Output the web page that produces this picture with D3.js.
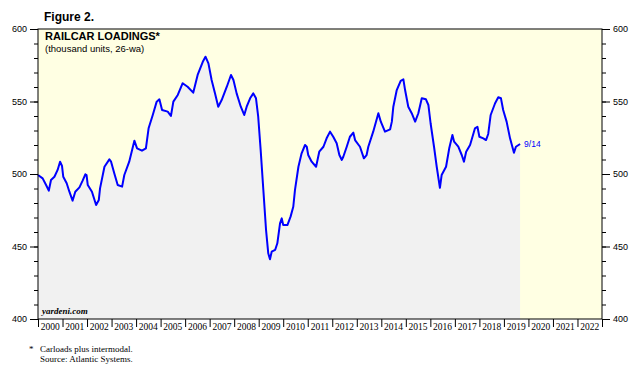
<!DOCTYPE html>
<html>
<head>
<meta charset="utf-8">
<script src="https://cdn.jsdelivr.net/npm/d3@7"></script>
<style>
  body { margin: 0; background: #fff; }
  svg { display: block; }
</style>
</head>
<body>
<svg id="chart" width="637" height="375"></svg>
<script>
// railcar loadings, 26-week average, thousand units
var years = [
  2000.00, 2000.19, 2000.33, 2000.44, 2000.53, 2000.67, 2000.80, 2000.90, 2000.98,
  2001.03, 2001.17, 2001.28, 2001.41, 2001.52, 2001.69, 2001.82, 2001.93, 2001.98,
  2002.03, 2002.20, 2002.37, 2002.48, 2002.53, 2002.71, 2002.91, 2002.98,
  2003.11, 2003.25, 2003.43, 2003.52, 2003.72, 2003.93,
  2004.04, 2004.24, 2004.40, 2004.51, 2004.68, 2004.84, 2004.95,
  2005.06, 2005.29, 2005.42, 2005.52, 2005.70, 2005.90,
  2006.10, 2006.33, 2006.51, 2006.72, 2006.83, 2006.95,
  2007.08, 2007.22, 2007.35, 2007.49, 2007.70, 2007.87, 2007.97,
  2008.10, 2008.27, 2008.41, 2008.51, 2008.65, 2008.78, 2008.89, 2008.98,
  2009.08, 2009.19, 2009.30, 2009.39, 2009.46, 2009.53, 2009.67, 2009.76, 2009.87, 2009.94,
  2010.00, 2010.17, 2010.30, 2010.41, 2010.48, 2010.62, 2010.75, 2010.89, 2010.96,
  2011.02, 2011.16, 2011.34, 2011.47, 2011.64, 2011.77, 2011.91,
  2012.04, 2012.18, 2012.29, 2012.39, 2012.45, 2012.59, 2012.72, 2012.86, 2012.93,
  2013.13, 2013.29, 2013.40, 2013.47, 2013.67, 2013.88, 2013.98,
  2014.15, 2014.36, 2014.43, 2014.49, 2014.63, 2014.79, 2014.90, 2014.97,
  2015.10, 2015.24, 2015.38, 2015.51, 2015.65, 2015.82, 2015.92,
  2016.01, 2016.15, 2016.26, 2016.39, 2016.46, 2016.64, 2016.77, 2016.90, 2016.97,
  2017.14, 2017.28, 2017.37, 2017.46, 2017.62, 2017.82, 2017.92,
  2018.00, 2018.16, 2018.27, 2018.36, 2018.46, 2018.64, 2018.77, 2018.88, 2018.97,
  2019.11, 2019.25, 2019.41, 2019.49, 2019.66
];
var loads = [
  499.3, 497.0, 492.4, 488.5, 495.9, 498.1, 502.8, 508.5, 505.5,
  498.1, 493.6, 487.8, 481.6, 487.8, 490.8, 495.4, 499.8, 499.3,
  492.4, 487.8, 478.6, 482.1, 490.1, 505.0, 510.1, 508.5,
  500.5, 492.4, 491.3, 499.3, 508.5, 523.0,
  517.7, 516.1, 517.7, 531.5, 540.7, 549.9, 551.5,
  544.1, 543.0, 540.0, 549.9, 554.5, 562.6,
  560.2, 556.1, 568.3, 577.4, 580.9, 576.3,
  564.8, 555.6, 546.4, 551.0, 560.2, 568.3, 564.8,
  555.6, 546.4, 540.7, 546.4, 552.2, 555.6, 552.2, 539.5,
  516.6, 489.0, 461.4, 445.3, 441.2, 446.4, 447.6, 452.2, 466.0, 469.4,
  464.8, 464.8, 470.6, 477.4, 489.0, 505.0, 514.3, 520.0, 518.8,
  513.1, 508.5, 505.0, 515.4, 518.8, 524.6, 529.2,
  525.7, 521.2, 513.1, 509.7, 511.9, 518.8, 525.7, 528.5, 523.4,
  518.8, 510.8, 513.1, 518.8, 529.2, 541.9, 536.1,
  529.2, 530.8, 536.1, 546.4, 557.9, 564.3, 565.3, 557.9,
  546.4, 541.9, 536.1, 541.9, 552.2, 551.5, 547.6,
  535.0, 518.8, 505.0, 490.5, 499.3, 505.0, 517.7, 526.9, 522.3,
  518.8, 513.1, 508.5, 515.4, 520.0, 531.5, 532.6,
  525.7, 524.6, 523.4, 527.6, 540.7, 548.8, 552.9, 552.2, 544.1,
  536.1, 524.6, 514.7, 518.8, 520.7
];
var yTicks = [400, 450, 500, 550, 600];
var yearLabels = d3.range(2000, 2023);
var lastLabel = "9/14";

var svg = d3.select('#chart');
var margin = {left: 38, top: 29, right: 35, bottom: 56};
var width = 637 - margin.left - margin.right,
    height = 375 - margin.top - margin.bottom;

var x = d3.scaleLinear().domain([2000, 2023]).range([0, width]);
var y = d3.scaleLinear().domain([400, 600]).range([height, 0]);

var g = svg.append('g')
  .attr('transform', 'translate(' + margin.left + ',' + margin.top + ')');

// yellow background for the whole plot
g.append('rect')
  .attr('width', width).attr('height', height)
  .attr('fill', '#ffffe3');

var data = years.map(function (d, i) { return {t: d, v: loads[i]}; });

var area = d3.area()
  .x(function (d) { return x(d.t); })
  .y0(height)
  .y1(function (d) { return y(d.v); });

g.append('path')
  .datum(data)
  .attr('d', area)
  .attr('fill', '#f1f1f1');

var line = d3.line()
  .x(function (d) { return x(d.t); })
  .y(function (d) { return y(d.v); });

g.append('path')
  .datum(data)
  .attr('d', line)
  .attr('fill', 'none')
  .attr('stroke', '#0000ff')
  .attr('stroke-width', 2)
  .attr('stroke-linejoin', 'round');

// frame
g.append('rect')
  .attr('width', width).attr('height', height)
  .attr('fill', 'none')
  .attr('stroke', '#000').attr('stroke-width', 1);

// y axes, minor then major, left and right
function yAxis(axisFn, size, labels) {
  return axisFn(y)
    .tickValues(labels ? yTicks : d3.range(400, 601, 10))
    .tickSize(size)
    .tickFormat(labels ? d3.format('d') : '');
}
[[d3.axisLeft, 0], [d3.axisRight, width]].forEach(function (a) {
  var minor = g.append('g').attr('transform', 'translate(' + a[1] + ',0)')
    .call(yAxis(a[0], 4, false));
  var major = g.append('g').attr('transform', 'translate(' + a[1] + ',0)')
    .call(yAxis(a[0], 8, true));
  [minor, major].forEach(function (ax) {
    ax.select('.domain').remove();
    ax.selectAll('line').attr('stroke', '#000');
    ax.selectAll('text')
      .attr('font-family', 'Liberation Sans, Arial, sans-serif')
      .attr('font-size', 9).attr('fill', '#000');
  });
});
g.selectAll('.tick text').attr('dx', function () { return 0; });

// x axis: year boundary ticks, labels centred in each year
var xa = g.append('g').attr('transform', 'translate(0,' + height + ')')
  .call(d3.axisBottom(x).tickValues(d3.range(2000, 2024)).tickSize(8).tickFormat(''));
xa.select('.domain').remove();
xa.selectAll('line').attr('stroke', '#000');

g.append('g').selectAll('text')
  .data(yearLabels)
  .enter().append('text')
  .attr('x', function (d) { return x(d + 0.5); })
  .attr('y', height + 11)
  .attr('text-anchor', 'middle')
  .attr('font-family', 'Liberation Serif, Times New Roman, serif')
  .attr('font-size', 9.5)
  .text(function (d) { return d; });

// end label
var last = data[data.length - 1];
g.append('text')
  .attr('x', x(last.t) + 4)
  .attr('y', y(last.v) + 3)
  .attr('font-family', 'Liberation Sans, Arial, sans-serif')
  .attr('font-size', 8.5)
  .attr('fill', '#0000ff')
  .text(lastLabel);

// titles
svg.append('text')
  .attr('x', 44).attr('y', 21)
  .attr('font-family', 'Liberation Sans, Arial, sans-serif')
  .attr('font-size', 12).attr('font-weight', 'bold')
  .text('Figure 2.');

g.append('text')
  .attr('x', 7).attr('y', 10.5)
  .attr('font-family', 'Liberation Sans, Arial, sans-serif')
  .attr('font-size', 11).attr('font-weight', 'bold')
  .text('RAILCAR LOADINGS*');

g.append('text')
  .attr('x', 7).attr('y', 23)
  .attr('font-family', 'Liberation Sans, Arial, sans-serif')
  .attr('font-size', 9.5)
  .text('(thousand units, 26-wa)');

g.append('text')
  .attr('x', 4).attr('y', height - 5)
  .attr('font-family', 'Liberation Serif, Times New Roman, serif')
  .attr('font-size', 9).attr('font-weight', 'bold').attr('font-style', 'italic')
  .text('yardeni.com');

// footnotes
var foot = svg.append('g')
  .attr('font-family', 'Liberation Serif, Times New Roman, serif')
  .attr('font-size', 9);
foot.append('text').attr('x', 29).attr('y', 352).text('*');
foot.append('text').attr('x', 40).attr('y', 352).text('Carloads plus intermodal.');
foot.append('text').attr('x', 40).attr('y', 362).text('Source: Atlantic Systems.');
</script>
</body>
</html>
